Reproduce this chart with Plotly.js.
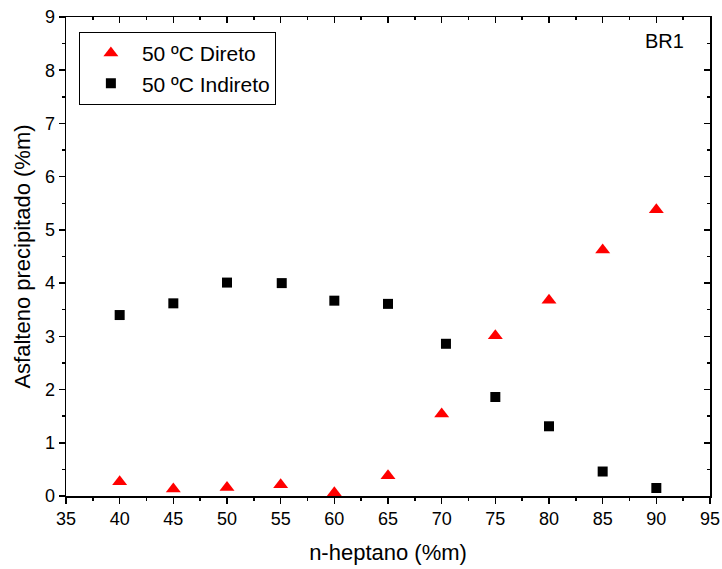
<!DOCTYPE html>
<html>
<head>
<meta charset="utf-8">
<script src="https://cdn.plot.ly/plotly-3.0.1.min.js"></script>
<style>html,body{margin:0;padding:0;background:#fff}#chart{width:722px;height:569px}</style>
</head>
<body>
<div id="chart"></div>
<script>
// Data
const diretoX = [40, 45, 50, 55, 60, 65, 70, 75, 80, 85, 90];
const diretoY = [0.27, 0.13, 0.16, 0.21, 0.06, 0.38, 1.54, 3.01, 3.68, 4.62, 5.38];
const indiretoX = [40, 45, 50, 55.1, 60, 65, 70.4, 75, 80, 85, 90];
const indiretoY = [3.40, 3.62, 4.01, 4.00, 3.67, 3.61, 2.86, 1.86, 1.31, 0.46, 0.15];
const xTicks = [35, 40, 45, 50, 55, 60, 65, 70, 75, 80, 85, 90, 95];
const yTicks = [0, 1, 2, 3, 4, 5, 6, 7, 8, 9];

const FONT = "Liberation Sans, Arial, sans-serif";

const traces = [
  {x: diretoX, y: diretoY, mode: 'markers', type: 'scatter', name: '50 ºC Direto',
   marker: {symbol: 'triangle-up', size: 13, color: '#ff0000'}},
  {x: indiretoX, y: indiretoY, mode: 'markers', type: 'scatter', name: '50 ºC Indireto',
   marker: {symbol: 'square', size: 10, color: '#000000'}}
];

const axisCommon = {showgrid: false, zeroline: false, showline: true, linecolor: '#000', linewidth: 1.5,
  tickcolor: '#000', tickwidth: 1.5, ticklen: 6};

const layout = {
  width: 722, height: 569,
  margin: {l: 66, r: 12, t: 17, b: 73},
  paper_bgcolor: '#fff', plot_bgcolor: '#fff',
  font: {family: FONT, color: '#000', size: 18},
  showlegend: true,
  legend: {x: 0.02, y: 0.969, xanchor: 'left', yanchor: 'top', bordercolor: '#000', borderwidth: 1,
    font: {family: FONT, size: 21, color: '#000'}, bgcolor: '#fff', tracegroupgap: 0, itemwidth: 52},
  xaxis: Object.assign({}, axisCommon, {range: [35, 95], tickmode: 'array', tickvals: xTicks,
    ticktext: xTicks.map(String), ticks: 'outside',
    minor: {dtick: 2.5, tick0: 35, ticks: 'outside', ticklen: 3, tickcolor: '#000', tickwidth: 1.5},
    title: {text: 'n-heptano (%m)', font: {family: FONT, size: 22}, standoff: 16},
    tickfont: {family: FONT, size: 18}}),
  yaxis: Object.assign({}, axisCommon, {range: [0, 9], tickmode: 'array', tickvals: yTicks,
    ticktext: yTicks.map(String), ticks: 'outside',
    minor: {dtick: 0.5, tick0: 0, ticks: 'outside', ticklen: 3, tickcolor: '#000', tickwidth: 1.5},
    title: {text: 'Asfalteno precipitado (%m)', font: {family: FONT, size: 22}, standoff: 8},
    tickfont: {family: FONT, size: 18}}),
  xaxis2: Object.assign({}, axisCommon, {range: [35, 95], overlaying: 'x', side: 'top', anchor: 'y',
    tickmode: 'array', tickvals: xTicks, ticks: 'inside', showticklabels: false,
    minor: {dtick: 2.5, tick0: 35, ticks: 'inside', ticklen: 3, tickcolor: '#000', tickwidth: 1.5}}),
  yaxis2: Object.assign({}, axisCommon, {range: [0, 9], overlaying: 'y', side: 'right', anchor: 'x',
    tickmode: 'array', tickvals: yTicks, ticks: 'inside', showticklabels: false,
    minor: {dtick: 0.5, tick0: 0, ticks: 'inside', ticklen: 3, tickcolor: '#000', tickwidth: 1.5}}),
  annotations: [{text: 'BR1', xref: 'paper', yref: 'paper', x: 0.963, y: 0.95, xanchor: 'right', yanchor: 'middle',
    showarrow: false, font: {family: FONT, size: 20, color: '#000'}}]
};

// invisible trace to activate overlay axes
traces.push({x: [35], y: [0], xaxis: 'x2', yaxis: 'y2', mode: 'markers', marker: {opacity: 0}, showlegend: false, hoverinfo: 'skip'});

Plotly.newPlot('chart', traces, layout, {displayModeBar: false, staticPlot: true});
</script>
</body>
</html>
